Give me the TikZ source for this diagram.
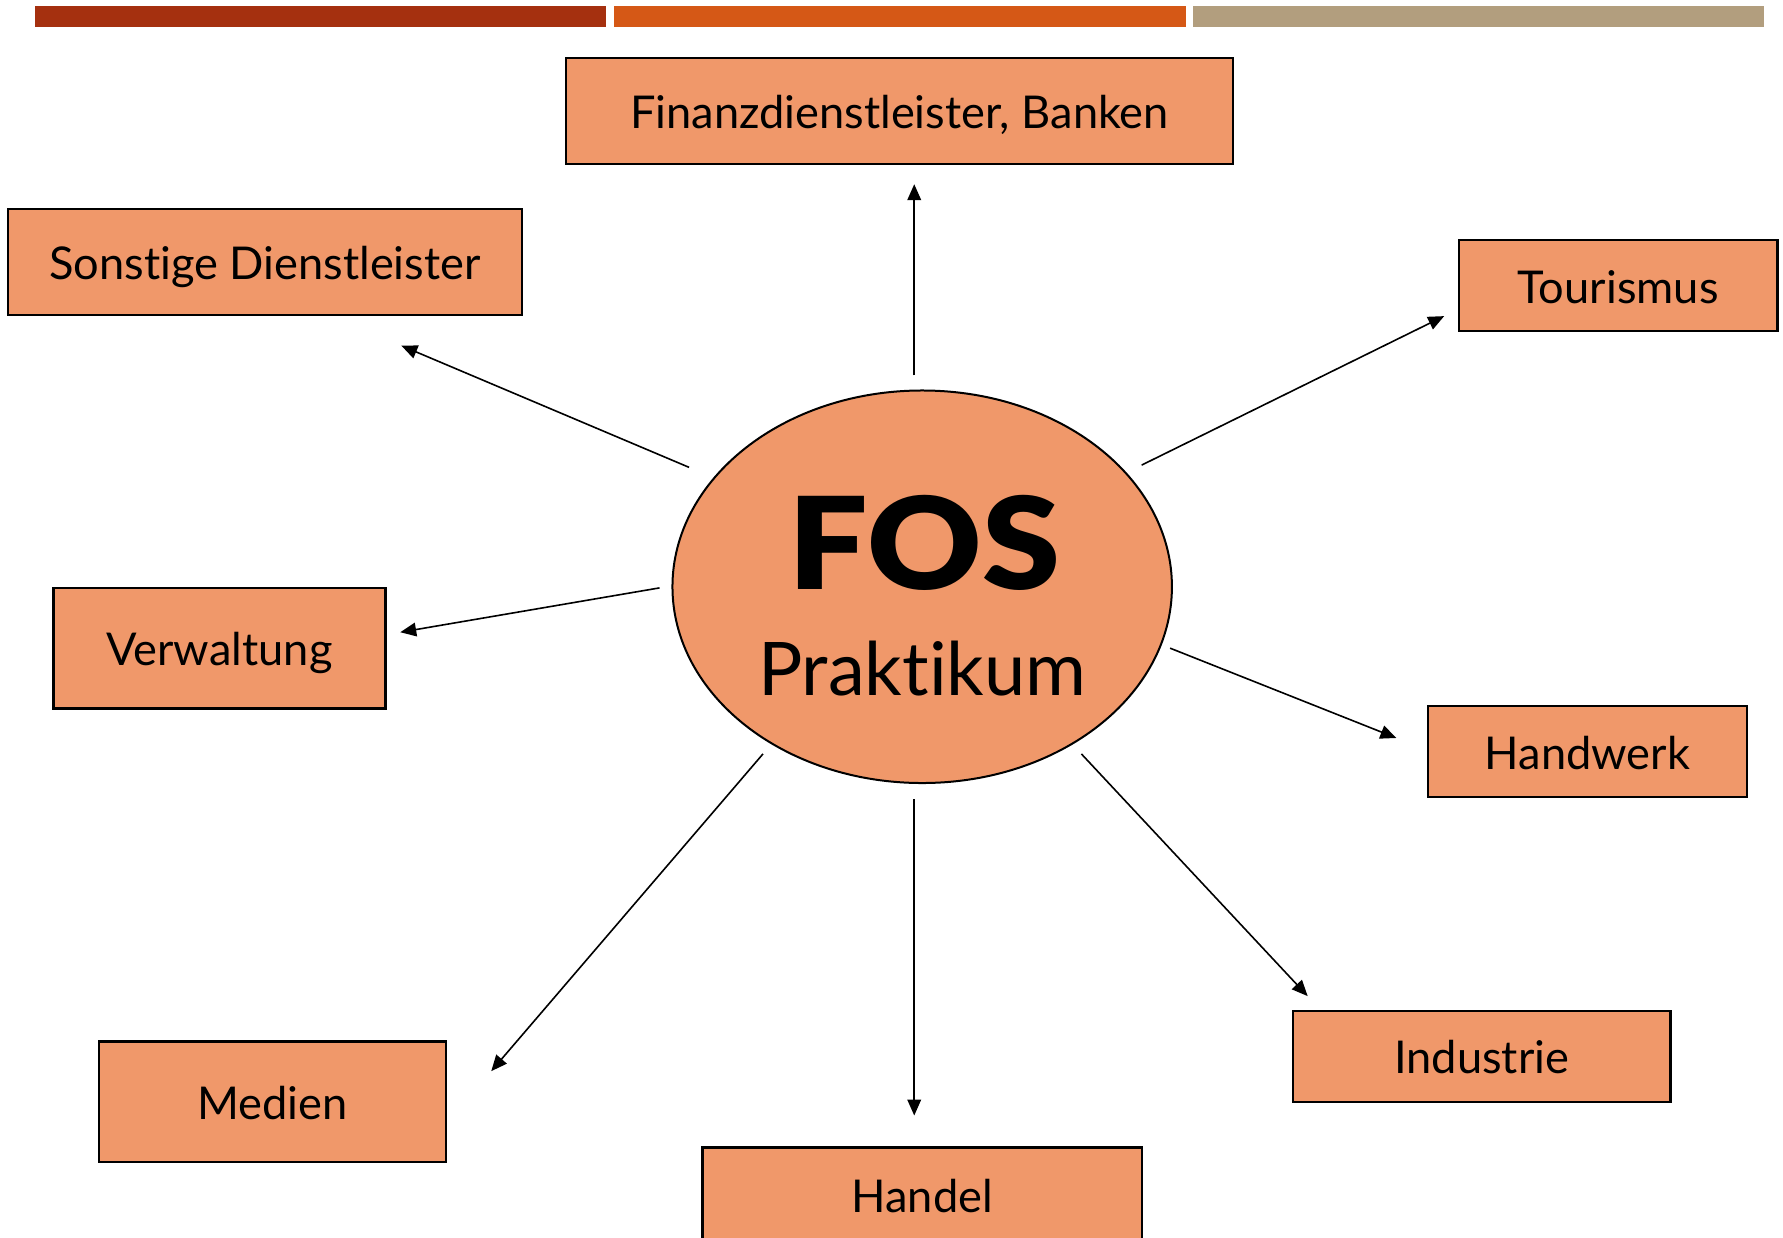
\documentclass[tikz,border=0pt]{standalone}
\usepackage{fontspec}
\setmainfont{Lato}[Ligatures=NoCommon]
\newfontfamily\fosfont{Lato Black}
\usetikzlibrary{shapes.geometric,arrows.meta}
\definecolor{boxfill}{HTML}{F0986A}
\definecolor{barA}{HTML}{A5300F}
\definecolor{barB}{HTML}{D55816}
\definecolor{barC}{HTML}{B29E7E}
\tikzset{
  box/.style={draw=black, line width=0.6pt, fill=boxfill, inner sep=0pt, text depth=0pt, text height=0.88em, font=\fontsize{11.3}{13}\selectfont},
  conn/.style={line width=0.4pt, -{Triangle[length=1.4mm,width=1.2mm]}},
  bar/.style={inner sep=0pt, minimum height=0.19cm, minimum width=5.02cm}
}
\begin{document}
\begin{tikzpicture}[x=0.01cm,y=-0.01cm]
\useasboundingbox (0,0) rectangle (1568,1088.7);
\fill[white] (0,0) rectangle (1568,1088.7);
% top bars
\node[bar, fill=barA] (barone) at (281.5,14.5) {};
\node[bar, fill=barB] (bartwo) at (791.5,14.5) {};
\node[bar, fill=barC] (barthree) at (1300.5,14.5) {};
% central ellipse
\node[ellipse, draw=black, line width=0.5pt, fill=boxfill, inner sep=0pt,
      minimum width=4.39cm, minimum height=3.45cm] (fos) at (811,516) {};
\node[anchor=base, inner sep=0pt, font=\fosfont\fontsize{32}{36}\selectfont] (fostext) at (813,518) {\scalebox{1.1}[1]{FOS}};
\node[anchor=base, inner sep=0pt, font=\fontsize{18.5}{22}\selectfont] (praktext) at (811,612) {Praktikum};
% boxes
\node[box, minimum width=5.86cm, minimum height=0.93cm] (fin) at (791,97.5) {Finanzdienstleister, Banken};
\node[box, minimum width=4.52cm, minimum height=0.93cm] (son) at (233,230.5) {Sonstige Dienstleister};
\node[box, minimum width=2.80cm, minimum height=0.80cm] (tou) at (1423,251) {Tourismus};
\node[box, minimum width=2.92cm, minimum height=1.06cm] (ver) at (193,570) {Verwaltung};
\node[box, minimum width=2.80cm, minimum height=0.80cm] (hwk) at (1396,661) {Handwerk};
\node[box, minimum width=3.32cm, minimum height=0.80cm] (ind) at (1303,929) {Industrie};
\node[box, minimum width=3.05cm, minimum height=1.06cm] (med) at (239.5,969) {Medien};
\node[box, minimum width=3.86cm, minimum height=0.84cm] (han) at (811,1051) {Handel};
% connector end points
\coordinate (finS) at (804,330);  \coordinate (finE) at (804,162);
\coordinate (sonS) at (606,411);  \coordinate (sonE) at (353,304);
\coordinate (touS) at (1004,409); \coordinate (touE) at (1270,278);
\coordinate (verS) at (580,517);  \coordinate (verE) at (352,556);
\coordinate (hwkS) at (1029,570); \coordinate (hwkE) at (1228,649);
\coordinate (indS) at (951,663);  \coordinate (indE) at (1150,876);
\coordinate (hanS) at (804,703);  \coordinate (hanE) at (804,981);
\coordinate (medS) at (671,663);  \coordinate (medE) at (432,942);
% connectors
\draw[conn] (finS) -- (finE);
\draw[conn] (sonS) -- (sonE);
\draw[conn] (touS) -- (touE);
\draw[conn] (verS) -- (verE);
\draw[conn] (hwkS) -- (hwkE);
\draw[conn] (indS) -- (indE);
\draw[conn] (hanS) -- (hanE);
\draw[conn] (medS) -- (medE);
\end{tikzpicture}
\end{document}
